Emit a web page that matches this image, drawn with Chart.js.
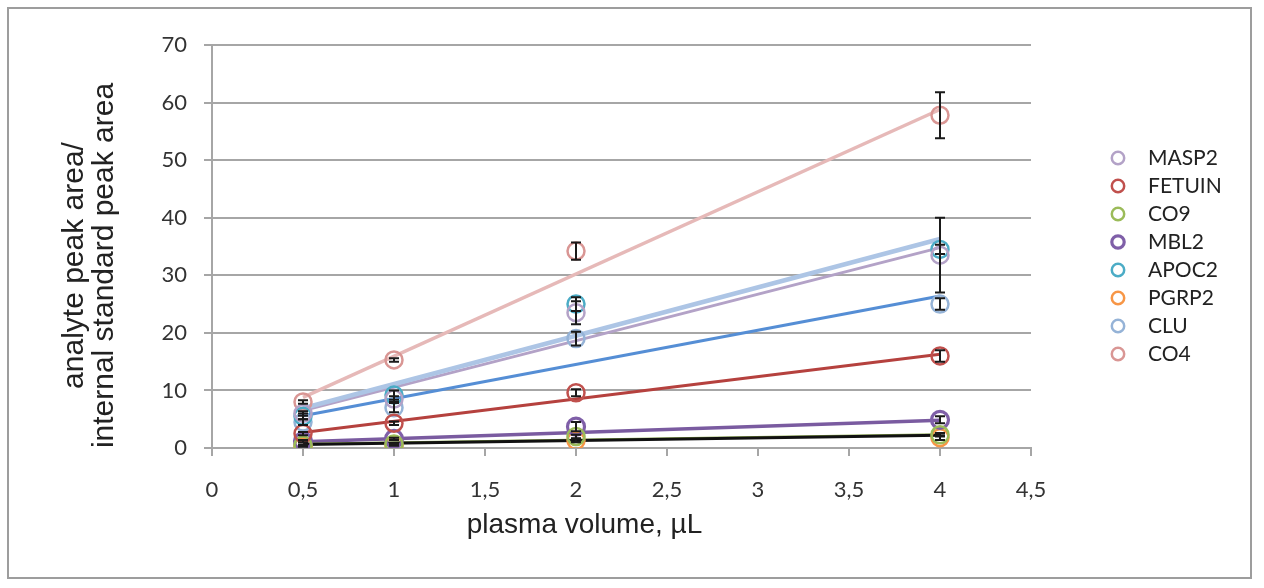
<!DOCTYPE html>
<html><head><meta charset="utf-8">
<script src="https://cdn.jsdelivr.net/npm/chart.js@4.4.1/dist/chart.umd.min.js"></script>
<style>
html,body{margin:0;padding:0;background:#fff;}
#wrap{position:relative;width:1264px;height:588px;overflow:hidden;}
#frame{position:absolute;left:7px;top:7px;width:1245px;height:572px;border:2px solid #9d9d9d;box-sizing:border-box;pointer-events:none;}
canvas{position:absolute;left:0;top:0;}
</style></head><body>
<div id="wrap"><canvas id="c" width="1264" height="588"></canvas><div id="frame"></div></div>
<script>
// ---- data ----
const xValues = [0.5, 1, 2, 4];
const seriesNames = ['MASP2', 'FETUIN', 'CO9', 'MBL2', 'APOC2', 'PGRP2', 'CLU', 'CO4'];
const MASP2  = [6.0, 8.5, 23.5, 33.5];
const FETUIN = [2.5, 4.3, 9.6, 16.0];
const CO9    = [0.5, 0.7, 2.0, 2.3];
const MBL2   = [1.2, 1.6, 3.7, 4.9];
const APOC2  = [5.5, 9.2, 25.0, 34.5];
const PGRP2  = [0.3, 0.5, 1.3, 1.8];
const CLU    = [4.5, 7.0, 19.0, 25.0];
const CO4    = [8.0, 15.3, 34.2, 57.8];
// error bar half-lengths
const MASP2_err  = [0.4, 0.5, 2.0, 6.5];
const FETUIN_err = [0.3, 0.3, 0.6, 1.0];
const CO9_err    = [0.1, 0.1, 0.3, 0.3];
const MBL2_err   = [0.2, 0.2, 0.8, 0.6];
const APOC2_err  = [0.5, 0.8, 1.2, 0.8];
const PGRP2_err  = [0.1, 0.1, 0.3, 0.4];
const CLU_err    = [0.5, 0.8, 1.2, 1.0];
const CO4_err    = [0.3, 0.3, 1.5, 4.0];
// trend lines, values read at x = 0.5 and x = 4
const trendX = [0.5, 4];
const trendCO4    = [8.8, 58.8];
const trendAPOC2  = [6.9, 36.3];
const trendMASP2  = [6.5, 34.8];
const trendCLU    = [5.6, 26.4];
const trendFETUIN = [2.7, 16.3];
const trendMBL2   = [1.1, 4.8];
const trendCO9    = [0.75, 2.4];
const trendPGRP2  = [0.6, 2.2];
// tick labels and titles
const xTickLabels = ['0', '0,5', '1', '1,5', '2', '2,5', '3', '3,5', '4', '4,5'];
const yTickLabels = ['0', '10', '20', '30', '40', '50', '60', '70'];
const xTitle = 'plasma volume, µL';
const yTitle = ['analyte peak area/', 'internal standard peak area'];

// ---- styles ----
const seriesValues = [MASP2, FETUIN, CO9, MBL2, APOC2, PGRP2, CLU, CO4];
const seriesErrors = [MASP2_err, FETUIN_err, CO9_err, MBL2_err, APOC2_err, PGRP2_err, CLU_err, CO4_err];
const seriesColors = ['#b3a2c7', '#c0504d', '#9bbb59', '#7f5fa8', '#4bacc6', '#f79646', '#95b3d7', '#d99694'];
const seriesBorder = [2.5, 2.5, 2.5, 3.2, 2.5, 2.5, 2.5, 2.5];

// first entry is drawn on top
const trends = [
  {v: trendPGRP2, c: '#111111', w: 3},
  {v: trendCO9, c: '#8aa84a', w: 2},
  {v: trendMBL2, c: '#7a5ba0', w: 3.5},
  {v: trendFETUIN, c: '#b5413e', w: 3},
  {v: trendCLU, c: '#558ed5', w: 3},
  {v: trendCO4, c: '#e6b9b8', w: 3.5},
  {v: trendAPOC2, c: '#adc5e5', w: 4.5},
  {v: trendMASP2, c: '#b3a2c7', w: 3}
];

function markerCanvas(color, lw) {
  const c = document.createElement('canvas');
  c.width = 22; c.height = 22;
  const g = c.getContext('2d');
  g.strokeStyle = color; g.lineWidth = lw;
  g.beginPath(); g.arc(11, 11, 6.2, 0, Math.PI * 2); g.stroke();
  return c;
}
const legendMarkers = seriesColors.map((c, i) => markerCanvas(c, seriesBorder[i]));

const datasets = [];
seriesNames.forEach((name, i) => {
  datasets.push({
    type: 'scatter',
    label: name,
    data: xValues.map((x, j) => ({x: x, y: seriesValues[i][j]})),
    errors: seriesErrors[i],
    borderColor: seriesColors[i],
    backgroundColor: 'rgba(0,0,0,0)',
    pointRadius: 8.5,
    pointHoverRadius: 8.5,
    pointBorderWidth: seriesBorder[i],
    borderWidth: seriesBorder[i],
    pointStyle: 'circle',
    order: 1
  });
});
trends.forEach((t, i) => {
  datasets.push({
    type: 'line',
    label: 'trend' + i,
    isTrend: true,
    data: trendX.map((x, j) => ({x: x, y: t.v[j]})),
    borderColor: t.c,
    borderWidth: t.w,
    pointRadius: 0,
    fill: false,
    tension: 0,
    order: 2
  });
});

const errorBars = {
  id: 'errorBars',
  afterDatasetsDraw(chart) {
    const {ctx, scales: {x, y}} = chart;
    ctx.save();
    ctx.strokeStyle = '#1a1a1a';
    ctx.lineWidth = 2;
    chart.data.datasets.forEach((ds) => {
      if (!ds.errors) return;
      ds.data.forEach((p, j) => {
        const e = ds.errors[j];
        const px = x.getPixelForValue(p.x);
        const t = y.getPixelForValue(p.y + e);
        const b = y.getPixelForValue(p.y - e);
        ctx.beginPath();
        ctx.moveTo(px, t); ctx.lineTo(px, b);
        ctx.moveTo(px - 5, t); ctx.lineTo(px + 5, t);
        ctx.moveTo(px - 5, b); ctx.lineTo(px + 5, b);
        ctx.stroke();
      });
    });
    ctx.restore();
  }
};

// axis titles drawn as canvas text, offset the way the original places them
const axisTitles = {
  id: 'axisTitles',
  afterDraw(chart) {
    const {ctx, chartArea: a} = chart;
    ctx.save();
    ctx.fillStyle = '#222';
    ctx.textAlign = 'center';
    ctx.textBaseline = 'middle';
    ctx.font = '28px "Liberation Sans"';
    ctx.fillText(xTitle, (a.left + a.right) / 2 - 37, 525);
    ctx.font = '30px "Liberation Sans"';
    const cy = (a.top + a.bottom) / 2 + 19;
    [75, 105].forEach((cx, i) => {
      ctx.save();
      ctx.translate(cx, cy);
      ctx.rotate(-Math.PI / 2);
      ctx.fillText(yTitle[i], 0, 0);
      ctx.restore();
    });
    ctx.restore();
  }
};

const LEGEND_DX = 60.5, LEGEND_DY = 9.5;
const legendShift = {
  id: 'legendShift',
  afterLayout(chart) {
    const l = chart.legend;
    l.left += LEGEND_DX; l.right += LEGEND_DX + 60; l.width += 60;
    l.top += LEGEND_DY; l.bottom += LEGEND_DY;
  }
};

const gridColor = '#a6a6a6';
new Chart(document.getElementById('c'), {
  data: {datasets: datasets},
  options: {
    responsive: false,
    animation: false,
    layout: {padding: {top: 45, bottom: 40, left: 0, right: 133}},
    plugins: {
      tooltip: {enabled: false},
      legend: {
        position: 'right',
        fullSize: false,
        maxWidth: 100,
        labels: {
          usePointStyle: true,
          pointStyleWidth: 39,
          boxHeight: 10,
          padding: 7,
          color: '#222',
          font: {family: 'Lato', size: 21},
          generateLabels(chart) {
            return Chart.defaults.plugins.legend.labels.generateLabels(chart)
              .filter(it => !chart.data.datasets[it.datasetIndex].isTrend)
              .map(it => Object.assign(it, {pointStyle: legendMarkers[it.datasetIndex]}));
          }
        }
      }
    },
    scales: {
      x: {
        type: 'linear',
        min: 0, max: 4.5,
        afterFit(s) { s.height = 100; },
        afterBuildTicks(s) { s.ticks = xTickLabels.map((_, i) => ({value: i * 0.5})); },
        ticks: {
          autoSkip: false, maxRotation: 0, padding: 21,
          color: '#333', font: {family: 'Lato', size: 22},
          callback: (v, i) => xTickLabels[i]
        },
        grid: {drawOnChartArea: false, drawTicks: true, tickLength: 8, color: gridColor, lineWidth: 2},
        border: {display: true, color: gridColor, width: 2},
        title: {display: false}
      },
      y: {
        type: 'linear',
        min: 0, max: 70,
        afterFit(s) { s.width = 212; },
        afterBuildTicks(s) { s.ticks = yTickLabels.map((_, i) => ({value: i * 10})); },
        ticks: {
          padding: 17, color: '#333', font: {family: 'Lato', size: 22},
          callback: (v, i) => yTickLabels[i]
        },
        grid: {drawOnChartArea: true, drawTicks: true, tickLength: 8, color: gridColor, lineWidth: 2},
        border: {display: true, color: gridColor, width: 2},
        title: {display: false}
      }
    }
  },
  plugins: [errorBars, legendShift, axisTitles]
});
</script>
</body></html>
